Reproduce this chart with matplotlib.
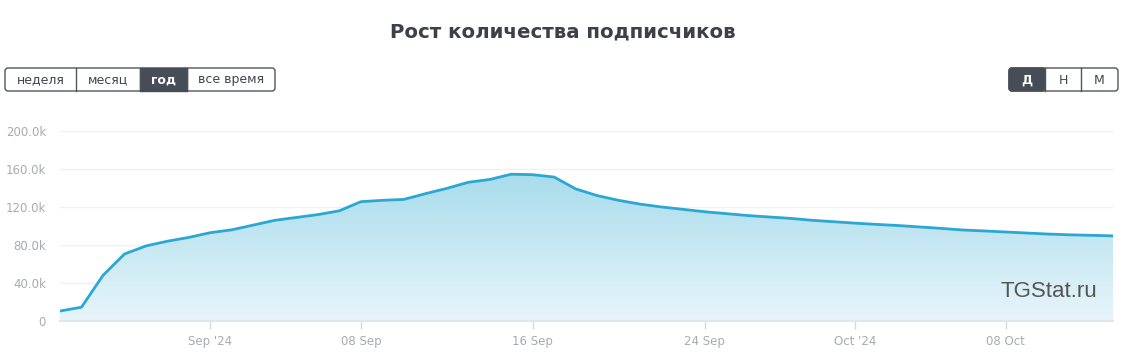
import datetime as dt
import matplotlib
matplotlib.use('Agg')
import matplotlib.pyplot as plt
import matplotlib.dates as mdates
from matplotlib.patches import FancyBboxPatch, Polygon
from matplotlib.colors import LinearSegmentedColormap
import numpy as np

# daily subscriber count (thousands), starting 25 Aug 2024
start = dt.datetime(2024, 8, 25)
subs_k = [10.5, 14.5, 48, 70.5, 79, 84, 88, 93, 96, 101,
          106, 109, 112, 116, 125.6, 127, 128, 134, 139.6, 146,
          149, 154.5, 154, 151.5, 139, 132, 127, 123, 120, 117.5,
          115, 113, 111, 109.5, 108, 106, 104.5, 103, 101.7, 100.5,
          99, 97.5, 95.8, 94.8, 93.7, 92.6, 91.5, 90.7, 90.2, 89.6]
dates = [start + dt.timedelta(days=i) for i in range(len(subs_k))]
values = [v * 1000 for v in subs_k]

yticks = [0, 40000, 80000, 120000, 160000, 200000]
ytick_labels = ['0', '40.0k', '80.0k', '120.0k', '160.0k', '200.0k']
xticks = [dt.datetime(2024, 9, 1), dt.datetime(2024, 9, 8), dt.datetime(2024, 9, 16),
          dt.datetime(2024, 9, 24), dt.datetime(2024, 10, 1), dt.datetime(2024, 10, 8)]
xtick_labels = ["Sep '24", '08 Sep', '16 Sep', '24 Sep', "Oct '24", '08 Oct']

left_buttons = ['неделя', 'месяц', 'год', 'все время']
right_buttons = ['Д', 'Н', 'М']

W, H = 1130, 363
fig = plt.figure(figsize=(W / 100, H / 100), dpi=100)

# chart area in pixels
x0, x1, ytop, ybot = 60, 1113, 131, 321
ax = fig.add_axes([x0 / W, 1 - ybot / H, (x1 - x0) / W, (ybot - ytop) / H])

line_c = '#2ba7d3'
xs = mdates.date2num(dates)
ax.plot(dates, values, color=line_c, lw=2.0, solid_joinstyle='round', zorder=3)

# gradient fill under the curve
poly = Polygon(list(zip(xs, values)) + [(xs[-1], 0), (xs[0], 0)], closed=True,
               facecolor='none', edgecolor='none')
ax.add_patch(poly)
grad = np.linspace(0, 1, 256).reshape(-1, 1)
cmap = LinearSegmentedColormap.from_list('g', ['#e7f5fa', '#a6dbeb'])
im = ax.imshow(grad, cmap=cmap, aspect='auto', origin='lower',
               extent=[xs[0], xs[-1], 0, 160000], zorder=2)
im.set_clip_path(poly)

ax.set_xlim(xs[0], xs[-1])
ax.set_ylim(0, 200000)
ax.set_yticks(yticks)
ax.set_yticklabels(ytick_labels)
ax.set_xticks(mdates.date2num(xticks))
ax.set_xticklabels(xtick_labels)
ax.grid(axis='y', color='#f0f0f0', lw=1)
ax.set_axisbelow(True)
for s in ['top', 'right', 'left']:
    ax.spines[s].set_visible(False)
ax.spines['bottom'].set_color('#e1e6ee')
ax.spines['bottom'].set_linewidth(1.5)
ax.tick_params(axis='y', length=0, pad=10, labelsize=8.5, labelcolor='#a8abb2')
ax.tick_params(axis='x', length=6, width=1, color='#d6d9de', pad=4,
               labelsize=8.5, labelcolor='#a8abb2')

ax.text(0.985, 0.1, 'TGStat.ru', transform=ax.transAxes, ha='right', va='bottom',
        fontsize=16, color='#555555', family='Liberation Sans', zorder=4)

# overlay for title and buttons in pixel coords
ov = fig.add_axes([0, 0, 1, 1])
ov.set_xlim(0, W)
ov.set_ylim(H, 0)
ov.axis('off')
ov.patch.set_alpha(0)

ov.text(563, 32, 'Рост количества подписчиков', ha='center', va='center',
        fontsize=14.2, fontweight='bold', color='#3c4048')

dark = '#474d56'
def button_group(labels, edges, active):
    xa, xb = edges[0], edges[-1]
    y_a, y_b = 68, 91
    ov.add_patch(FancyBboxPatch((xa, y_a), xb - xa, y_b - y_a,
                                boxstyle='round,pad=0,rounding_size=3',
                                facecolor='white', edgecolor='#50555d', lw=1, zorder=1))
    for i, lab in enumerate(labels):
        a, b = edges[i], edges[i + 1]
        if i == active:
            ov.add_patch(FancyBboxPatch((a, y_a), b - a, y_b - y_a,
                                        boxstyle='round,pad=0,rounding_size=3' if i in (0, len(labels) - 1) else 'square,pad=0',
                                        facecolor=dark, edgecolor=dark, lw=1, zorder=2))
        if 0 < i:
            ov.plot([a, a], [y_a, y_b], color='#50555d', lw=1, zorder=3)
        ov.text((a + b) / 2, (y_a + y_b) / 2 + 0.5, lab, ha='center', va='center',
                fontsize=9, color='white' if i == active else '#3f4650',
                fontweight='bold' if i == active else 'normal', zorder=4)

button_group(left_buttons, [5, 76, 140, 187, 275], 2)
button_group(right_buttons, [1009, 1045, 1081, 1118], 0)

fig.savefig('out.png', dpi=100)
